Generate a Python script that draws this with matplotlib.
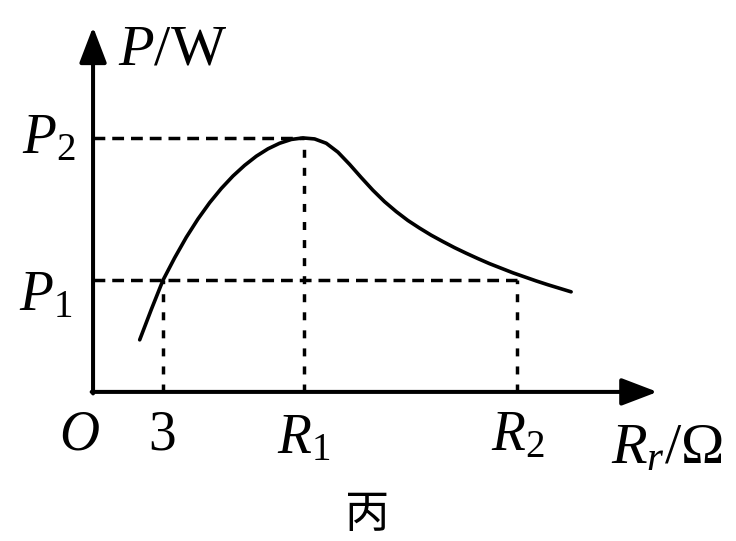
import matplotlib.pyplot as plt

plt.rcParams['font.family'] = ['Liberation Serif', 'Noto Sans CJK SC']
plt.rcParams['mathtext.fontset'] = 'custom'
plt.rcParams['mathtext.rm'] = 'Liberation Serif'
plt.rcParams['mathtext.it'] = 'Liberation Serif:italic'

# P-R curve (P in units of P2, R in ohm)
r_vals = [2.0, 2.5, 3.0, 3.5, 4.0, 4.5, 5.0, 5.5, 6.0, 6.5, 7.0, 7.5, 8.0, 8.5,
          9.0, 9.5, 10.0, 10.5, 11.0, 11.5, 12.0, 12.5, 13.0, 13.5, 14.0, 14.5,
          15.0, 15.5, 16.0, 16.5, 17.0, 17.5, 18.0, 18.5, 19.0, 19.5, 20.0, 20.5]
p_vals = [0.205, 0.325, 0.44, 0.528, 0.609, 0.681, 0.745, 0.801, 0.850, 0.892,
          0.928, 0.957, 0.979, 0.994, 1.0, 0.996, 0.979, 0.944, 0.896, 0.844,
          0.794, 0.749, 0.710, 0.675, 0.645, 0.617, 0.592, 0.568, 0.546, 0.525,
          0.505, 0.487, 0.469, 0.453, 0.437, 0.422, 0.408, 0.394]

r_3 = 3.0
r_1 = 9.05
r_2 = 18.2
p_1 = 0.44
p_2 = 1.0

x_end = 24.2
y_end = 1.437

fig = plt.figure(figsize=(7.36, 5.41), dpi=100)
ax = fig.add_axes([0, 0, 1, 1])
ax.set_xlim(-3.99, 27.57)
ax.set_ylim(-0.587, 1.543)
ax.axis('off')

# axes with arrow heads
arrow = dict(arrowstyle='-|>,head_length=1.1,head_width=0.42', lw=2.9, color='k',
             shrinkA=0, shrinkB=0, mutation_scale=20)
ax.annotate('', xy=(0, y_end), xytext=(0, -0.006), arrowprops=arrow)
ax.annotate('', xy=(x_end, 0), xytext=(-0.06, 0), arrowprops=arrow)

# guide lines
hdash = (0, (3.4, 2.0))
vdash = (0, (2.3, 2.9))
lw_d = 2.5
ax.plot([0, r_1], [p_2, p_2], color='k', lw=lw_d, ls=hdash)
ax.plot([0, r_2], [p_1, p_1], color='k', lw=lw_d, ls=hdash)
ax.plot([r_3, r_3], [0, p_1], color='k', lw=lw_d, ls=vdash)
ax.plot([r_1, r_1], [0, p_2], color='k', lw=lw_d, ls=vdash)
ax.plot([r_2, r_2], [0, p_1], color='k', lw=lw_d, ls=vdash)

ax.plot(r_vals, p_vals, color='k', lw=2.6, solid_capstyle='round',
        solid_joinstyle='round')

fs = 40
ax.text(1.07, 1.29, r'$P$/W', fontsize=42, ha='left', va='baseline')
ax.text(-0.73, 0.94, r'$P_2$', fontsize=fs, ha='right', va='baseline')
ax.text(-0.9, 0.323, r'$P_1$', fontsize=fs, ha='right', va='baseline')
ax.text(-0.6, -0.228, r'$O$', fontsize=fs, ha='center', va='baseline')
ax.text(r_3 - 0.05, -0.228, '3', fontsize=fs, ha='center', va='baseline')
ax.text(r_1, -0.24, r'$R_1$', fontsize=fs, ha='center', va='baseline')
ax.text(r_2, -0.228, r'$R_2$', fontsize=fs, ha='center', va='baseline')
ax.text(24.6, -0.28, r'$R_r$/Ω', fontsize=42, ha='center', va='baseline')
ax.text(11.74, -0.48, '丙', fontsize=32, ha='center', va='center',
        family=['Noto Sans CJK SC'])

fig.savefig('out.png', dpi=100)
